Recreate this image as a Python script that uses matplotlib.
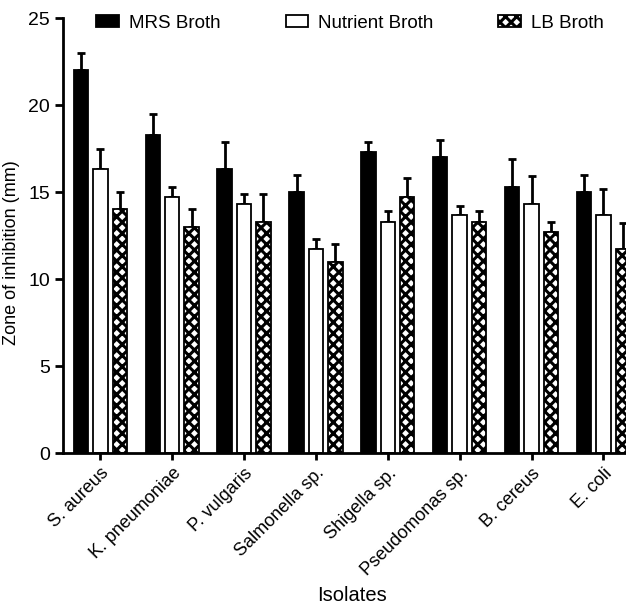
import matplotlib
matplotlib.use("Agg")
import matplotlib.pyplot as plt
import numpy as np

plt.rcParams['font.family'] = ['Liberation Sans', 'DejaVu Sans']
plt.rcParams['hatch.linewidth'] = 2.2

categories = ["S. aureus", "K. pneumoniae", "P. vulgaris", "Salmonella sp.",
              "Shigella sp.", "Pseudomonas sp.", "B. cereus", "E. coli"]
series_names = ["MRS Broth", "Nutrient Broth", "LB Broth"]
mrs = [22.0, 18.3, 16.3, 15.0, 17.3, 17.0, 15.3, 15.0]
mrs_err = [1.0, 1.2, 1.6, 1.0, 0.6, 1.0, 1.6, 1.0]
nutrient = [16.3, 14.7, 14.3, 11.7, 13.3, 13.7, 14.3, 13.7]
nutrient_err = [1.2, 0.6, 0.6, 0.6, 0.6, 0.5, 1.6, 1.5]
lb = [14.0, 13.0, 13.3, 11.0, 14.7, 13.3, 12.7, 11.7]
lb_err = [1.0, 1.0, 1.6, 1.0, 1.1, 0.6, 0.6, 1.5]

fig = plt.figure(figsize=(6.26, 6.05), dpi=100)
ax = fig.add_axes([0.1006, 0.2512, 0.923, 0.719])

x = np.arange(len(categories))
w = 0.2
off = 0.27
styles = [dict(color='black', edgecolor='black'),
          dict(color='white', edgecolor='black'),
          dict(color='white', edgecolor='black', hatch='xxx')]
data = [(mrs, mrs_err), (nutrient, nutrient_err), (lb, lb_err)]
for i, ((vals, errs), st, name) in enumerate(zip(data, styles, series_names)):
    pos = x + (i - 1) * off
    ax.bar(pos, vals, w, linewidth=1.3, label=name, zorder=2, **st)
    ax.errorbar(pos, vals, yerr=[np.zeros(len(errs)), errs], fmt='none',
                ecolor='black', elinewidth=2, capsize=3, capthick=2, zorder=1)

ax.set_xlim(-0.52, 7.52)
ax.set_ylim(0, 25)
ax.set_yticks([0, 5, 10, 15, 20, 25])
ax.set_xticks(x)
ax.set_xticklabels(categories, rotation=45, ha='right', rotation_mode='anchor', fontsize=13)
ax.tick_params(axis='y', labelsize=14, width=2, length=6)
ax.tick_params(axis='x', width=2, length=5)
for s in ['top', 'right']:
    ax.spines[s].set_visible(False)
for s in ['left', 'bottom']:
    ax.spines[s].set_linewidth(2)

ax.set_ylabel("Zone of inhibition (mm)", fontsize=13)
ax.yaxis.set_label_coords(-0.074, 0.46)
ax.set_xlabel("Isolates", fontsize=14.5)
ax.xaxis.set_label_coords(0.5, -0.306)

ax.legend(loc='center left', bbox_to_anchor=(0.058, 0.988), ncol=3, frameon=False,
          fontsize=13.5, columnspacing=3.45, handlelength=1.2, handleheight=0.55,
          handletextpad=0.55, borderaxespad=0, borderpad=0)

fig.savefig("out.png", dpi=100)
